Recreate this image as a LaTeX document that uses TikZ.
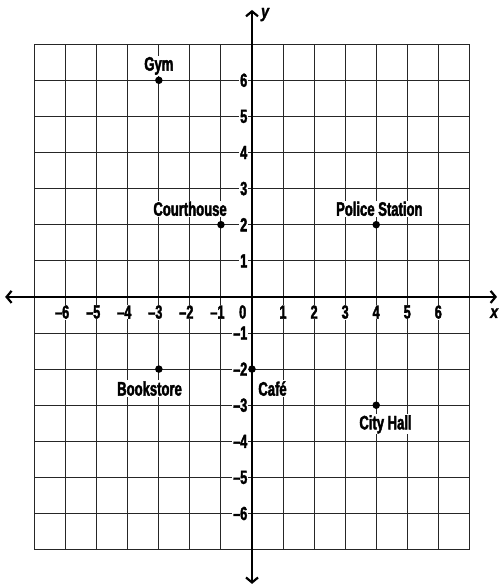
\documentclass[tikz,border=0pt]{standalone}
\usepackage{fontspec}
\newfontfamily\labfont{Liberation Sans}[FakeStretch=0.67,FakeBold=2,UprightFont=*-Bold]
\newfontfamily\labifont{Liberation Sans}[FakeStretch=0.8,FakeBold=1.5,UprightFont=*-Bold Italic]
\usetikzlibrary{arrows.meta}
\begin{document}
\begin{tikzpicture}[x=31.05pt,y=36.1pt,
  gridline/.style={line width=1pt,black!85},
  axisline/.style={line width=2.8pt,black,{Straight Barb[length=5pt,width=12pt,line width=2.2pt]}-{Straight Barb[length=5pt,width=12pt,line width=2.2pt]}},
  lab/.style={font=\fontsize{19.5}{19.5}\labfont,fill=white,inner sep=1pt},
  tick/.style={font=\fontsize{19}{19}\labfont,fill=white,inner sep=0.8pt},
  pt/.style={circle,fill=black,inner sep=0pt,minimum size=7.5pt}]
\useasboundingbox (-8.116,-8.008) rectangle (7.923,8.224);
\foreach \k in {-7,-6,-5,-4,-3,-2,-1,0,1,2,3,4,5,6,7} {
  \draw[gridline] (\k,-7) -- (\k,7);
  \draw[gridline] (-7,\k) -- (7,\k);
}
\coordinate (xl) at (-7.95,0);
\coordinate (xr) at (7.89,0);
\coordinate (yt) at (0,7.95);
\coordinate (yb) at (0,-7.95);
\draw[axisline] (xl) -- (xr);
\draw[axisline] (yb) -- (yt);
\node[font=\fontsize{18}{18}\labifont] (ylab) at (0.42,7.82) {y};
\node[font=\fontsize{18}{18}\labifont] (xlab) at (7.8,-0.45) {x};
\foreach \i in {1,...,6} {
  \node[tick] (xp\i) at (\i,-0.42) {\i};
  \node[tick] (xn\i) at (-\i,-0.42) {\llap{–}\i};
  \node[tick,anchor=east] (yp\i) at (-0.12,\i) {\i};
  \node[tick,anchor=east] (yn\i) at (-0.12,-\i) {–\i};
}
\node[tick] (zero) at (-0.3,-0.42) {0};
\node[pt] (gym) at (-3,6) {};
\node[pt] (court) at (-1,2) {};
\node[pt] (police) at (4,2) {};
\node[pt] (book) at (-3,-2) {};
\node[pt] (cafe) at (0,-2) {};
\node[pt] (city) at (4,-3) {};
\node[lab] (gyml) at (-3,6.4) {Gym};
\node[lab] (courtl) at (-1.995,2.44) {Courthouse};
\node[lab] (policel) at (4.1,2.44) {Police Station};
\node[lab] (bookl) at (-3.3,-2.54) {Bookstore};
\node[lab] (cafel) at (0.66,-2.54) {Café};
\node[lab] (cityl) at (4.3,-3.53) {City Hall};
\end{tikzpicture}
\end{document}
